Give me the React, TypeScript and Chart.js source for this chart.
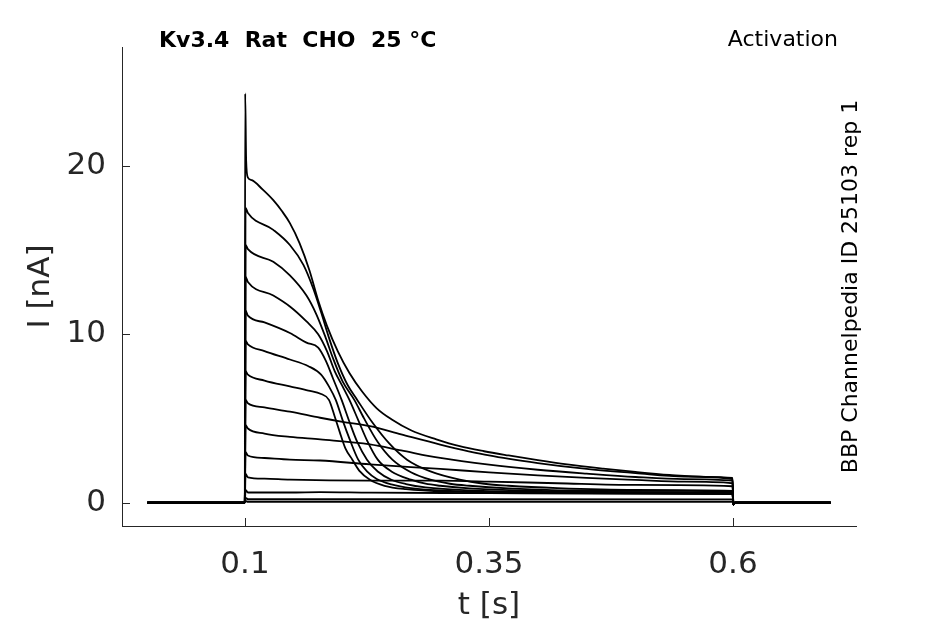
import { useEffect, useRef } from "react";
import { Chart, registerables } from "chart.js";

Chart.register(...registerables);

// protocol timing (s)
const pulseOn = 0.1;
const pulseOff = 0.6;
const sweepEnd = 0.7;
const offDip = -0.12;

const xTicks = [0.1, 0.35, 0.6];
const yTicks = [0, 10, 20];

const titleText = "Kv3.4  Rat  CHO  25 °C";
const protocolText = "Activation";
const sourceText = "BBP Channelpedia ID 25103 rep 1";

// current traces during the step, [t (s), I (nA)]
const traceA: [number, number][] = [
  [0.1002, 24.3], [0.1012, 20.3], [0.103, 19.3], [0.107, 19.15], [0.118, 18.6],
  [0.129, 17.96], [0.138, 17.3], [0.146, 16.6], [0.156, 15.4], [0.166, 13.8],
  [0.175, 12.0], [0.184, 10.5], [0.195, 9.0], [0.207, 7.7], [0.22, 6.6],
  [0.235, 5.6], [0.25, 4.95], [0.27, 4.3], [0.296, 3.76], [0.32, 3.35],
  [0.345, 3.05], [0.37, 2.8], [0.4, 2.52], [0.43, 2.27], [0.467, 2.02],
  [0.5, 1.82], [0.535, 1.64], [0.57, 1.53], [0.5995, 1.46],
];
const traceB: [number, number][] = [
  [0.1006, 17.5], [0.103, 17.2], [0.129, 16.2], [0.146, 15.3], [0.16, 14.1],
  [0.17, 12.7], [0.178, 11.3], [0.186, 9.8], [0.195, 8.3], [0.205, 7.0],
  [0.215, 6.1], [0.23, 4.8], [0.248, 3.5], [0.266, 2.55], [0.29, 1.85],
  [0.32, 1.36], [0.345, 1.12], [0.37, 1.0], [0.42, 0.86], [0.5, 0.76], [0.5995, 0.7],
];
const traceC: [number, number][] = [
  [0.1006, 15.3], [0.103, 15.05], [0.129, 14.3], [0.146, 13.5], [0.163, 12.3],
  [0.173, 11.2], [0.182, 9.9], [0.19, 8.6], [0.2, 7.2], [0.212, 6.1],
  [0.222, 5.0], [0.236, 3.6], [0.251, 2.55], [0.27, 1.8], [0.29, 1.36],
  [0.31, 1.12], [0.33, 1.0], [0.37, 0.85], [0.45, 0.72], [0.5995, 0.64],
];
const traceD: [number, number][] = [
  [0.1006, 13.4], [0.103, 13.1], [0.129, 12.3], [0.146, 11.65], [0.163, 10.76],
  [0.175, 10.0], [0.184, 9.0], [0.192, 7.8], [0.2, 6.9], [0.207, 6.1],
  [0.216, 4.9], [0.225, 3.7], [0.236, 2.55], [0.25, 1.85], [0.27, 1.36],
  [0.285, 1.12], [0.3, 1.0], [0.33, 0.84], [0.38, 0.72], [0.46, 0.64], [0.5995, 0.6],
];
const traceE: [number, number][] = [
  [0.1006, 11.4], [0.103, 11.1], [0.12, 10.7], [0.146, 10.07], [0.163, 9.5],
  [0.175, 9.2], [0.183, 8.4], [0.19, 7.4], [0.199, 6.1], [0.207, 4.8],
  [0.215, 3.6], [0.225, 2.55], [0.236, 1.85], [0.25, 1.36], [0.265, 1.1],
  [0.285, 0.9], [0.33, 0.72], [0.42, 0.62], [0.5995, 0.57],
];
const traceF: [number, number][] = [
  [0.1006, 9.6], [0.103, 9.4], [0.12, 9.0], [0.146, 8.5], [0.165, 8.1],
  [0.178, 7.6], [0.186, 6.9], [0.193, 6.1], [0.2, 4.9], [0.207, 3.8],
  [0.216, 2.55], [0.225, 1.85], [0.235, 1.4], [0.25, 1.08], [0.27, 0.86],
  [0.31, 0.7], [0.4, 0.6], [0.5995, 0.55],
];
const traceG: [number, number][] = [
  [0.1006, 7.8], [0.103, 7.6], [0.12, 7.25], [0.146, 6.9], [0.165, 6.65],
  [0.178, 6.45], [0.186, 6.1], [0.192, 5.1], [0.197, 4.2], [0.203, 3.2],
  [0.21, 2.55], [0.217, 1.9], [0.228, 1.36], [0.243, 1.0], [0.265, 0.8],
  [0.31, 0.65], [0.42, 0.56], [0.5995, 0.52],
];
const traceH: [number, number][] = [
  [0.1006, 6.1], [0.103, 5.9], [0.12, 5.65], [0.146, 5.4], [0.177, 5.04],
  [0.2, 4.8], [0.228, 4.54], [0.26, 4.05], [0.3, 3.45], [0.35, 2.8],
  [0.4, 2.35], [0.45, 2.0], [0.5, 1.75], [0.55, 1.55], [0.5995, 1.4],
];
const traceI: [number, number][] = [
  [0.1006, 4.6], [0.103, 4.4], [0.12, 4.1], [0.146, 3.9], [0.177, 3.75],
  [0.228, 3.46], [0.26, 3.1], [0.3, 2.65], [0.35, 2.25], [0.4, 1.95],
  [0.45, 1.72], [0.5, 1.52], [0.55, 1.4], [0.5995, 1.3],
];
const traceJ: [number, number][] = [
  [0.1006, 3.0], [0.103, 2.8], [0.12, 2.65], [0.146, 2.55], [0.177, 2.5],
  [0.228, 2.27], [0.3, 2.0], [0.35, 1.8], [0.4, 1.62], [0.45, 1.47],
  [0.5, 1.35], [0.55, 1.24], [0.5995, 1.15],
];
const traceK: [number, number][] = [
  [0.1006, 1.7], [0.103, 1.5], [0.12, 1.42], [0.146, 1.36], [0.228, 1.3],
  [0.3, 1.3], [0.35, 1.25], [0.42, 1.15], [0.5, 1.05], [0.5995, 0.97],
];
const traceL: [number, number][] = [
  [0.1006, 0.75], [0.103, 0.6], [0.146, 0.6], [0.177, 0.62], [0.228, 0.59],
  [0.35, 0.56], [0.45, 0.53], [0.5995, 0.5],
];
const traceM: [number, number][] = [
  [0.1006, 0.28], [0.103, 0.2], [0.3, 0.2], [0.5995, 0.19],
];
const traceN: [number, number][] = [
  [0.1006, 0.1], [0.103, 0.05], [0.5995, 0.05],
];

const traces = [traceA, traceB, traceC, traceD, traceE, traceF, traceG, traceH, traceI, traceJ, traceK, traceL, traceM, traceN];

const decor = {
  id: "decor",
  afterDraw(chart: any) {
    const { ctx, chartArea, scales } = chart;
    ctx.save();
    ctx.strokeStyle = "#262626";
    ctx.lineWidth = 1;
    ctx.beginPath();
    xTicks.forEach((v) => {
      const px = Math.round(scales.x.getPixelForValue(v)) + 0.5;
      ctx.moveTo(px, chartArea.bottom);
      ctx.lineTo(px, chartArea.bottom - 8);
    });
    yTicks.forEach((v) => {
      const py = Math.round(scales.y.getPixelForValue(v)) + 0.5;
      ctx.moveTo(chartArea.left, py);
      ctx.lineTo(chartArea.left + 8, py);
    });
    ctx.stroke();

    ctx.fillStyle = "#000";
    ctx.textBaseline = "alphabetic";
    ctx.font = "bold 22px 'DejaVu Sans'";
    ctx.textAlign = "left";
    ctx.fillText(titleText, chartArea.left + 37, 46.5);
    ctx.font = "22px 'DejaVu Sans'";
    ctx.textAlign = "right";
    ctx.fillText(protocolText, 838, 46);
    ctx.translate(857, (chartArea.top + chartArea.bottom) / 2);
    ctx.rotate(-Math.PI / 2);
    ctx.textAlign = "center";
    ctx.fillText(sourceText, 0, 0);
    ctx.restore();
  },
};

export default function App() {
  const canvasRef = useRef<HTMLCanvasElement>(null);

  useEffect(() => {
    const datasets = traces.map((trace) => ({
      data: [
        { x: 0, y: 0 },
        { x: pulseOn - 0.0002, y: 0 },
        ...trace.map(([x, y]) => ({ x, y })),
        { x: pulseOff + 0.0004, y: offDip },
        { x: pulseOff + 0.002, y: 0 },
        { x: sweepEnd, y: 0 },
      ],
      borderColor: "#000",
      borderWidth: 1.8,
      pointRadius: 0,
      fill: false,
      cubicInterpolationMode: "monotone" as const,
    }));

    const tickFont = { family: "'DejaVu Sans'", size: 31 };
    const chart = new Chart(canvasRef.current!, {
      type: "line",
      data: { datasets },
      options: {
        responsive: false,
        animation: false,
        layout: { padding: { left: 0, top: 47, right: 89, bottom: 0 } },
        plugins: { legend: { display: false }, tooltip: { enabled: false } },
        scales: {
          x: {
            type: "linear",
            min: -0.026,
            max: 0.726,
            grid: { display: false },
            border: { display: true, color: "#262626", width: 1 },
            afterBuildTicks: (s: any) => {
              s.ticks = xTicks.map((value) => ({ value }));
            },
            afterFit: (s: any) => {
              s.height = 98;
            },
            ticks: {
              font: tickFont,
              color: "#262626",
              padding: 12,
              maxRotation: 0,
              callback: (v: any) => String(v),
            },
            title: {
              display: true,
              text: "t [s]",
              font: tickFont,
              color: "#262626",
              padding: { top: 0, bottom: -1 },
            },
          },
          y: {
            min: -1.39,
            max: 27.06,
            grid: { display: false },
            border: { display: true, color: "#262626", width: 1 },
            afterBuildTicks: (s: any) => {
              s.ticks = yTicks.map((value) => ({ value }));
            },
            afterFit: (s: any) => {
              s.width = 122;
            },
            ticks: {
              font: tickFont,
              color: "#262626",
              padding: 8,
              callback: (v: any) => String(v),
            },
            title: {
              display: true,
              text: "I [nA]",
              font: tickFont,
              color: "#262626",
              padding: { top: 22, bottom: 0 },
            },
          },
        },
      },
      plugins: [decor],
    });

    return () => {
      chart.destroy();
    };
  }, []);

  return (
    <div style={{ position: "absolute", left: 0, top: 0, width: 945, height: 624, background: "#fff" }}>
      <canvas ref={canvasRef} width={945} height={624} />
    </div>
  );
}
